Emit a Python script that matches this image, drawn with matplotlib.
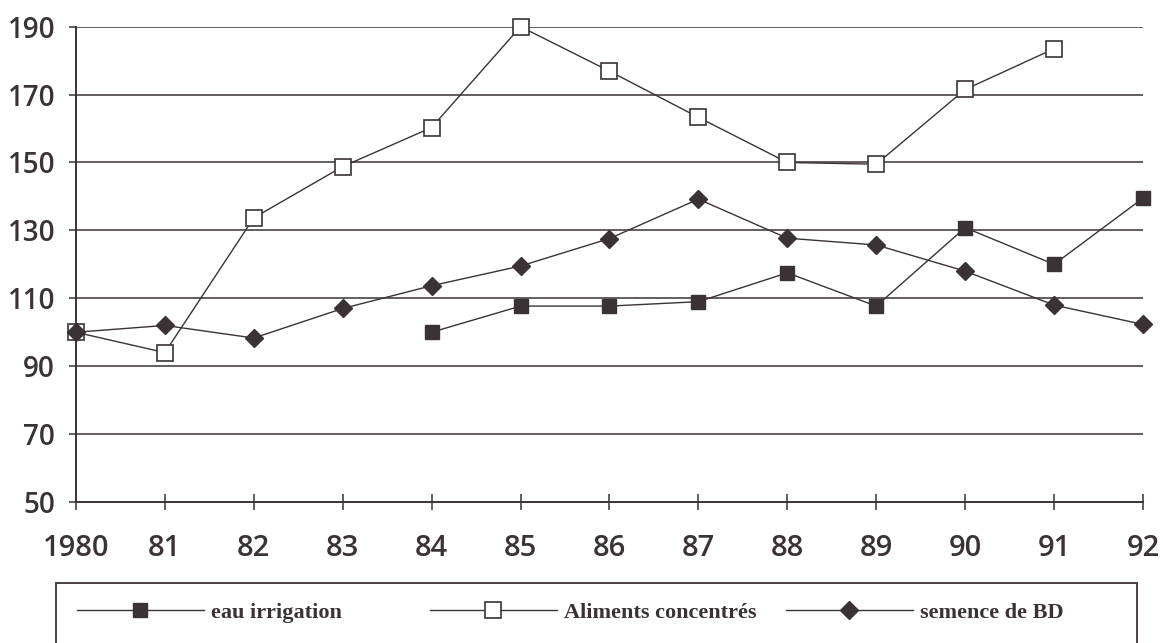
# Libraries
import matplotlib.pyplot as plt
import matplotlib.patches as patches
import numpy as np

# Data
years = [1980, 1981, 1982, 1983, 1984, 1985, 1986, 1987, 1988, 1989, 1990, 1991, 1992]
year_labels = ['1980', '81', '82', '83', '84', '85', '86', '87', '88', '89', '90', '91', '92']
eau_irrigation = [np.nan, np.nan, np.nan, np.nan, 100, 107.7, 107.7, 109, 117.5, 107.7, 130.8, 120, 139.5]
aliments_concentres = [100, 94, 133.7, 148.8, 160.3, 190, 176.9, 163.3, 150, 149.5, 171.5, 183.5, np.nan]
semence_bd = [100, 102, 98.3, 107, 113.7, 119.5, 127.6, 139.2, 127.7, 125.7, 118, 108, 102.3]
y_ticks = [50, 70, 90, 110, 130, 150, 170, 190]

ink = '#3b3235'

fig = plt.figure(figsize=(11.63, 6.43), dpi=100)
ax = fig.add_axes([0.0653, 0.2193, 0.9175, 0.7392])

# grid lines
for v in y_ticks[1:]:
    ax.axhline(v, color=ink, lw=1.1, zorder=1)

l1, = ax.plot(years, eau_irrigation, color=ink, lw=1.0, marker='s', markersize=10,
              markerfacecolor=ink, markeredgecolor=ink, label='eau irrigation',
              zorder=3, clip_on=False)
l2, = ax.plot(years, aliments_concentres, color=ink, lw=1.0, marker='s', markersize=11,
              markerfacecolor='white', markeredgecolor=ink, markeredgewidth=1.2,
              label='Aliments concentrés', zorder=3, clip_on=False)
l3, = ax.plot(years, semence_bd, color=ink, lw=1.0, marker='D', markersize=9,
              markerfacecolor=ink, markeredgecolor=ink, label='semence de BD',
              zorder=3, clip_on=False)

ax.set_xlim(1980, 1992)
ax.set_ylim(50, 190)
ax.set_xticks(years)
ax.set_xticklabels(year_labels)
ax.set_yticks(y_ticks)
ax.set_yticklabels([str(v) for v in y_ticks])

for s in ['top', 'right']:
    ax.spines[s].set_visible(False)
for s in ['left', 'bottom']:
    ax.spines[s].set_color(ink)
    ax.spines[s].set_linewidth(1.4)

ax.tick_params(axis='x', direction='inout', length=12, width=1.1, color=ink,
               pad=17, labelsize=21, labelcolor=ink)
ax.tick_params(axis='y', direction='out', length=5, width=1.1, color=ink,
               pad=10, labelsize=20, labelcolor=ink)
for lab in ax.get_xticklabels() + ax.get_yticklabels():
    lab.set_fontfamily('Open Sans')
    lab.set_fontweight('semibold')

# legend box (bottom edge cut off)
rect = patches.Rectangle((0.048, -0.05), 0.93, 0.143, transform=fig.transFigure,
                         fill=False, edgecolor=ink, lw=1.3)
fig.patches.append(rect)

# one legend per entry, placed like the original
leg_x = [77 / 1163, 430 / 1163, 786 / 1163]
for h, x in zip([l1, l2, l3], leg_x):
    leg = fig.legend(handles=[h], loc='center left', bbox_to_anchor=(x, 0.047),
                     frameon=False, handlelength=5.7, handletextpad=0.35,
                     borderpad=0, borderaxespad=0,
                     prop={'family': 'Liberation Serif', 'weight': 'bold', 'size': 16})
    for t in leg.get_texts():
        t.set_color(ink)

plt.savefig('out.png', dpi=100)
